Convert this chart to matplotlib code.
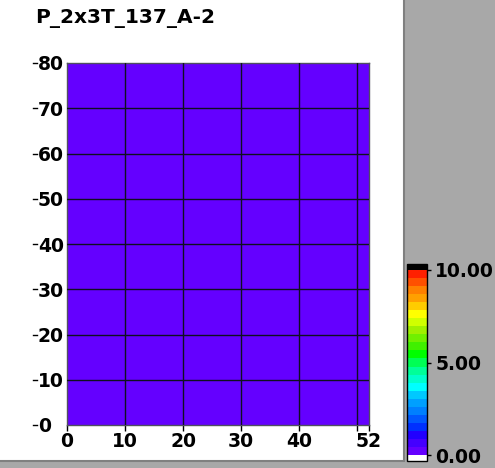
import numpy as np
import matplotlib
matplotlib.use('Agg')
import matplotlib.pyplot as plt
from matplotlib.colors import ListedColormap, BoundaryNorm
from matplotlib.patches import Rectangle

# data
title = 'P_2x3T_137_A-2'
x_edges = [0, 52]
y_edges = [0, 80]
field = [[0.00]]
xticks = [0, 10, 20, 30, 40, 50, 52]
xlabels = ['0', '10', '20', '30', '40', '', '52']
yticks = [0, 10, 20, 30, 40, 50, 60, 70, 80]
cbar_ticks = [0, 5, 10]
cbar_labels = ['0.00', '5.00', '10.00']
# colour scale, bottom to top
colors = ['#6400ff', '#4400ff', '#2200ff', '#0030ff', '#0058ff',
          '#0080ff', '#00a0ff', '#00c8ff', '#00ffff', '#00ffcc', '#00ff99',
          '#00ff55', '#00ff00', '#40f000', '#70f000', '#a0f000',
          '#d0ff00', '#ffff00', '#ffcc00', '#ffa000', '#ff8000', '#ff5000',
          '#ff2000']

W, H = 495, 468
fs = 13.5
fig = plt.figure(figsize=(W/100, H/100), dpi=100)
fig.patch.set_facecolor('white')

# grey panel on the right and bottom
fig.patches.append(Rectangle((403/W, 0), (W-403)/W, 1, transform=fig.transFigure,
                             facecolor='#a8a8a8', edgecolor='none', zorder=-2))
fig.patches.append(Rectangle((0, 0), 1, (H-460)/H, transform=fig.transFigure,
                             facecolor='#a8a8a8', edgecolor='none', zorder=-2))
fig.add_artist(plt.Line2D([403.5/W, 403.5/W], [(H-460)/H, 1], transform=fig.transFigure,
                          color='#808080', lw=1.5, zorder=-1))
fig.add_artist(plt.Line2D([0, 403.5/W], [(H-460.5)/H, (H-460.5)/H], transform=fig.transFigure,
                          color='#808080', lw=1.5, zorder=-1))

cmap = ListedColormap(colors)
cmap.set_under('white')
cmap.set_over('black')
levels = np.linspace(0, 10, len(colors) + 1)
norm = BoundaryNorm(levels, cmap.N)

ax = fig.add_axes([67/W, 1 - 425/H, (369-67)/W, (425-63)/H])
mesh = ax.pcolormesh(x_edges, y_edges, field, cmap=cmap, norm=norm)
ax.set_xlim(0, 52)
ax.set_ylim(0, 80)
ax.set_xticks(xticks)
ax.set_xticklabels(xlabels, fontsize=fs, fontweight='bold')
ax.set_yticks(yticks)
ax.set_yticklabels([str(v) for v in yticks], fontsize=fs, fontweight='bold', ha='left')
ax.tick_params(axis='x', direction='out', length=4, width=1, pad=1)
ax.tick_params(axis='y', length=0, pad=21)
for s in ax.spines.values():
    s.set_color('#505060')
    s.set_linewidth(1)
for v in xticks[1:-1]:
    ax.axvline(v, color='#101020', lw=1, zorder=3)
for v in yticks[1:-1]:
    ax.axhline(v, color='#101020', lw=1, zorder=3)
# little dashes left of the y labels
for v in yticks:
    ax.plot([(33-67)/302, (37-67)/302], [v, v], color='black', lw=1,
            transform=ax.get_yaxis_transform(), clip_on=False)

fig.text(35/W, 1 - 9/H, title, fontsize=14.5, fontweight='bold', va='top', ha='left')

cax = fig.add_axes([407/W, 1 - 461/H, 20/W, (461-264)/H])
cb = fig.colorbar(mesh, cax=cax, extend='both', extendrect=True, extendfrac=0.032,
                  ticks=cbar_ticks, drawedges=False)
cb.minorticks_off()
cb.ax.set_yticklabels(cbar_labels, fontsize=fs, fontweight='bold')
cb.ax.tick_params(direction='out', length=3, width=1, pad=3)
cb.outline.set_linewidth(1)
cb.outline.set_edgecolor('black')

fig.savefig('out.png', dpi=100)
